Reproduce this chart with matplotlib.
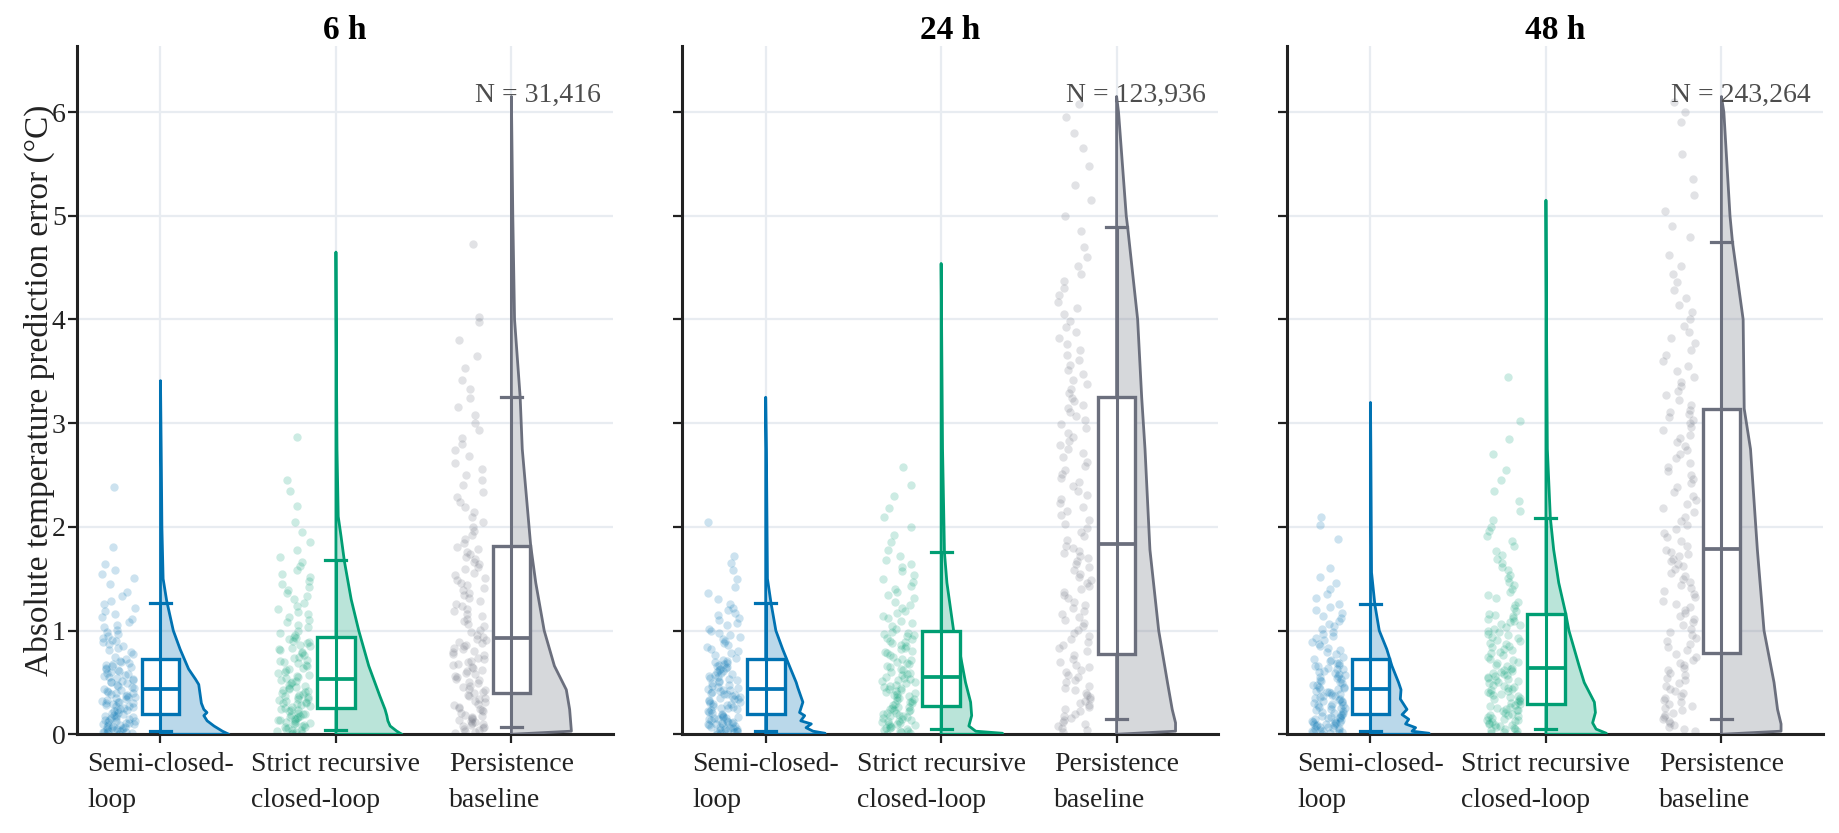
import math
import matplotlib
matplotlib.use("Agg")
import matplotlib.pyplot as plt
from matplotlib.patches import Polygon, Rectangle
from matplotlib.colors import to_rgba

plt.rcParams["font.family"] = ["Liberation Serif", "DejaVu Serif"]

# ---------------------------------------------------------------
# data
# ---------------------------------------------------------------
HORIZONS = ["6 h", "24 h", "48 h"]
N_COUNTS = [31416, 123936, 243264]
MODELS = ["Semi-closed-\nloop", "Strict recursive\nclosed-loop", "Persistence\nbaseline"]
COLORS = ["#0072B2", "#009E73", "#6B6F7D"]

# box stats per horizon: [semi, strict, persistence]; whiskers = 5th / 95th pct
BOX_Q1 = [[0.193, 0.257, 0.395], [0.20, 0.273, 0.77], [0.20, 0.29, 0.78]]
BOX_MED = [[0.44, 0.53, 0.926], [0.44, 0.556, 1.833], [0.44, 0.643, 1.79]]
BOX_Q3 = [[0.723, 0.939, 1.817], [0.723, 0.997, 3.25], [0.723, 1.164, 3.14]]
WHISK_LO = [[0.03, 0.042, 0.074], [0.03, 0.048, 0.145], [0.03, 0.055, 0.145]]
WHISK_HI = [[1.27, 1.68, 3.25], [1.264, 1.76, 4.89], [1.254, 2.09, 4.75]]

# half-violin outlines: error level and density half-width
SEMI_6H_VY = [0.0, 0.03, 0.08, 0.13, 0.18, 0.21, 0.24, 0.30, 0.48, 0.53, 0.63, 0.82, 1.0, 1.29, 1.5, 2.0, 2.75, 3.41]
SEMI_6H_VW = [0.39, 0.353, 0.305, 0.266, 0.247, 0.265, 0.247, 0.233, 0.218, 0.2, 0.16, 0.112, 0.073, 0.035, 0.015, 0.008, 0.004, 0.0]
STRICT_6H_VY = [0.0, 0.03, 0.08, 0.13, 0.18, 0.24, 0.37, 0.66, 1.0, 1.3, 1.67, 1.91, 2.1, 2.75, 3.5, 4.65]
STRICT_6H_VW = [0.376, 0.347, 0.309, 0.296, 0.29, 0.28, 0.25, 0.187, 0.13, 0.087, 0.048, 0.029, 0.013, 0.006, 0.003, 0.0]
PERSIST_6H_VY = [0.03, 0.24, 0.43, 0.66, 1.0, 1.46, 1.82, 2.75, 3.25, 4.0, 5.0, 6.15]
PERSIST_6H_VW = [0.342, 0.332, 0.313, 0.245, 0.187, 0.139, 0.11, 0.062, 0.05, 0.018, 0.008, 0.0]

SEMI_24H_VY = [0.0, 0.01, 0.03, 0.064, 0.1, 0.13, 0.18, 0.21, 0.31, 0.45, 0.5, 0.66, 0.82, 1.0, 1.27, 1.5, 2.75, 3.25]
SEMI_24H_VW = [0.34, 0.338, 0.27, 0.23, 0.26, 0.2, 0.222, 0.193, 0.212, 0.183, 0.174, 0.135, 0.097, 0.058, 0.03, 0.01, 0.004, 0.0]
STRICT_24H_VY = [0.0, 0.01, 0.03, 0.08, 0.18, 0.31, 0.5, 0.76, 1.0, 1.46, 1.75, 2.75, 4.54]
STRICT_24H_VW = [0.35, 0.35, 0.197, 0.158, 0.174, 0.168, 0.139, 0.11, 0.071, 0.033, 0.019, 0.008, 0.0]
PERSIST_24H_VY = [0.03, 0.11, 0.24, 0.5, 1.0, 1.78, 2.75, 3.25, 4.0, 4.89, 5.0, 6.0, 6.15]
PERSIST_24H_VW = [0.336, 0.336, 0.317, 0.29, 0.24, 0.19, 0.162, 0.143, 0.12, 0.063, 0.055, 0.011, 0.0]

SEMI_48H_VY = [0.0, 0.01, 0.03, 0.064, 0.1, 0.145, 0.19, 0.24, 0.34, 0.43, 0.5, 0.66, 0.82, 1.0, 1.25, 1.56, 2.75, 3.2]
SEMI_48H_VW = [0.334, 0.334, 0.237, 0.257, 0.2, 0.218, 0.18, 0.208, 0.17, 0.174, 0.16, 0.122, 0.093, 0.05, 0.025, 0.006, 0.002, 0.0]
STRICT_48H_VY = [0.0, 0.01, 0.05, 0.11, 0.21, 0.31, 0.5, 0.66, 1.0, 1.17, 1.46, 1.78, 2.09, 2.75, 4.0, 5.15]
STRICT_48H_VW = [0.344, 0.344, 0.286, 0.266, 0.282, 0.276, 0.218, 0.189, 0.131, 0.112, 0.073, 0.044, 0.025, 0.008, 0.003, 0.0]
PERSIST_48H_VY = [0.03, 0.1, 0.24, 0.5, 1.0, 1.78, 2.75, 3.14, 4.0, 4.75, 5.0, 6.0, 6.15]
PERSIST_48H_VW = [0.34, 0.34, 0.32, 0.3, 0.243, 0.205, 0.166, 0.13, 0.124, 0.063, 0.049, 0.014, 0.0]

# sub-sampled raw errors shown as jittered points (two draws per group)
SEMI_6H_PTS = [0.01, 0.02, 0.03, 0.04, 0.05, 0.06, 0.07, 0.08, 0.09, 0.10, 0.11, 0.12, 0.13, 0.15, 0.16, 0.17, 0.18,
               0.20, 0.21, 0.23, 0.24, 0.25, 0.27, 0.28, 0.29, 0.31, 0.32, 0.33, 0.35, 0.36, 0.37, 0.39, 0.40, 0.41, 0.43,
               0.45, 0.46, 0.48, 0.49, 0.51, 0.52, 0.54, 0.55, 0.57, 0.58, 0.60, 0.61, 0.63, 0.64, 0.66, 0.67, 0.69, 0.71,
               0.75, 0.79, 0.83, 0.87, 0.91, 0.95, 0.99, 1.03, 1.08, 1.13, 1.19, 1.26, 1.33, 1.45, 1.58, 1.81, 2.38]
SEMI_6H_PTS_B = [0.005, 0.015, 0.025, 0.035, 0.045, 0.055, 0.075, 0.085, 0.095, 0.105, 0.125, 0.14, 0.155, 0.175,
                 0.19, 0.205, 0.22, 0.235, 0.26, 0.275, 0.30, 0.315, 0.34, 0.355, 0.38, 0.395, 0.42, 0.44, 0.47, 0.50,
                 0.53, 0.56, 0.59, 0.62, 0.65, 0.68, 0.70, 0.73, 0.77, 0.81, 0.85, 0.89, 0.93, 0.97, 1.01, 1.05, 1.11,
                 1.16, 1.22, 1.29, 1.37, 1.51, 1.64, 1.55, 0.02, 0.06, 0.14, 0.30, 0.50, 0.90]
STRICT_6H_PTS = [0.01, 0.02, 0.04, 0.05, 0.07, 0.08, 0.10, 0.11, 0.13, 0.14, 0.16, 0.17, 0.19, 0.20, 0.22, 0.23, 0.25,
                 0.27, 0.28, 0.30, 0.31, 0.33, 0.34, 0.36, 0.37, 0.39, 0.40, 0.42, 0.43, 0.45, 0.46, 0.48, 0.49, 0.51, 0.52,
                 0.55, 0.57, 0.60, 0.62, 0.64, 0.67, 0.69, 0.71, 0.74, 0.76, 0.78, 0.81, 0.83, 0.85, 0.88, 0.90, 0.92, 0.94,
                 0.98, 1.03, 1.08, 1.13, 1.18, 1.24, 1.30, 1.36, 1.42, 1.48, 1.55, 1.62, 1.71, 1.85, 2.05, 2.35, 2.87]
STRICT_6H_PTS_B = [0.005, 0.015, 0.03, 0.045, 0.06, 0.075, 0.09, 0.105, 0.12, 0.135, 0.15, 0.165, 0.18, 0.195, 0.21,
                   0.235, 0.245, 0.265, 0.29, 0.305, 0.32, 0.345, 0.355, 0.38, 0.41, 0.44, 0.47, 0.50, 0.54, 0.565, 0.59,
                   0.63, 0.66, 0.70, 0.72, 0.75, 0.79, 0.82, 0.86, 0.89, 0.93, 0.96, 1.00, 1.05, 1.10, 1.16, 1.21, 1.27,
                   1.33, 1.39, 1.45, 1.52, 1.58, 1.66, 1.78, 1.95, 2.20, 2.45]
PERSIST_6H_PTS = [0.01, 0.03, 0.05, 0.07, 0.09, 0.11, 0.13, 0.15, 0.17, 0.19, 0.22, 0.24, 0.26, 0.29, 0.32, 0.35, 0.38,
                  0.41, 0.44, 0.47, 0.50, 0.53, 0.56, 0.59, 0.62, 0.65, 0.68, 0.71, 0.74, 0.77, 0.80, 0.83, 0.86, 0.89, 0.92,
                  0.96, 1.01, 1.06, 1.11, 1.16, 1.21, 1.26, 1.31, 1.36, 1.41, 1.46, 1.51, 1.56, 1.61, 1.66, 1.71, 1.76, 1.81,
                  1.88, 1.96, 2.05, 2.14, 2.24, 2.34, 2.45, 2.56, 2.68, 2.80, 2.93, 3.08, 3.24, 3.42, 3.65, 4.02, 4.73]
PERSIST_6H_PTS_B = [0.02, 0.04, 0.06, 0.08, 0.10, 0.12, 0.14, 0.16, 0.18, 0.21, 0.23, 0.25, 0.28, 0.31, 0.34, 0.37,
                    0.40, 0.43, 0.46, 0.49, 0.52, 0.55, 0.58, 0.61, 0.64, 0.67, 0.70, 0.73, 0.76, 0.79, 0.82, 0.85, 0.88,
                    0.91, 0.94, 0.99, 1.04, 1.09, 1.14, 1.19, 1.24, 1.29, 1.34, 1.39, 1.44, 1.49, 1.54, 1.59, 1.64, 1.69,
                    1.74, 1.79, 1.84, 1.92, 2.00, 2.10, 2.19, 2.29, 2.40, 2.50, 2.62, 2.74, 2.86, 3.00, 3.16, 3.33, 3.53,
                    3.80, 3.98]

SEMI_24H_PTS = [0.01, 0.02, 0.03, 0.04, 0.05, 0.06, 0.07, 0.08, 0.09, 0.10, 0.11, 0.12, 0.14, 0.15, 0.16, 0.17, 0.19,
                0.21, 0.22, 0.23, 0.25, 0.26, 0.27, 0.29, 0.30, 0.31, 0.33, 0.34, 0.35, 0.37, 0.38, 0.39, 0.41, 0.42, 0.43,
                0.45, 0.47, 0.48, 0.50, 0.51, 0.53, 0.54, 0.56, 0.57, 0.59, 0.60, 0.62, 0.63, 0.65, 0.66, 0.68, 0.69, 0.71,
                0.74, 0.78, 0.82, 0.86, 0.90, 0.94, 0.98, 1.02, 1.07, 1.12, 1.17, 1.22, 1.30, 1.42, 1.58, 1.72, 2.05]
SEMI_24H_PTS_B = [0.005, 0.015, 0.025, 0.035, 0.045, 0.055, 0.065, 0.075, 0.085, 0.095, 0.105, 0.115, 0.13, 0.145,
                  0.155, 0.165, 0.18, 0.20, 0.215, 0.24, 0.255, 0.28, 0.295, 0.32, 0.345, 0.36, 0.385, 0.40, 0.425, 0.44,
                  0.46, 0.49, 0.52, 0.55, 0.58, 0.61, 0.64, 0.67, 0.70, 0.72, 0.76, 0.80, 0.84, 0.88, 0.92, 0.96, 1.00,
                  1.05, 1.10, 1.15, 1.20, 1.26, 1.36, 1.50, 1.65]
STRICT_24H_PTS = [0.01, 0.03, 0.04, 0.06, 0.07, 0.09, 0.10, 0.12, 0.13, 0.15, 0.17, 0.18, 0.20, 0.21, 0.23, 0.24, 0.26,
                  0.28, 0.30, 0.31, 0.33, 0.34, 0.36, 0.37, 0.39, 0.40, 0.42, 0.43, 0.45, 0.47, 0.48, 0.50, 0.51, 0.53, 0.54,
                  0.58, 0.60, 0.63, 0.65, 0.68, 0.70, 0.73, 0.75, 0.78, 0.80, 0.83, 0.85, 0.88, 0.90, 0.93, 0.95, 0.97, 0.99,
                  1.04, 1.09, 1.14, 1.19, 1.25, 1.31, 1.37, 1.43, 1.50, 1.57, 1.64, 1.72, 1.85, 2.00, 2.18, 2.40, 2.58]
STRICT_24H_PTS_B = [0.005, 0.02, 0.035, 0.05, 0.065, 0.08, 0.095, 0.11, 0.125, 0.14, 0.16, 0.175, 0.19, 0.205, 0.22,
                    0.235, 0.25, 0.265, 0.29, 0.32, 0.35, 0.38, 0.41, 0.44, 0.46, 0.49, 0.52, 0.55, 0.57, 0.59, 0.62,
                    0.66, 0.69, 0.72, 0.76, 0.79, 0.82, 0.86, 0.89, 0.92, 0.96, 0.98, 1.02, 1.07, 1.12, 1.17, 1.22, 1.28,
                    1.34, 1.40, 1.47, 1.54, 1.61, 1.68, 1.78, 1.92, 2.10, 2.30]
PERSIST_24H_PTS = [0.02, 0.06, 0.10, 0.14, 0.18, 0.22, 0.26, 0.30, 0.34, 0.38, 0.43, 0.47, 0.52, 0.57, 0.62, 0.67, 0.73,
                   0.83, 0.89, 0.95, 1.01, 1.07, 1.13, 1.19, 1.25, 1.31, 1.37, 1.43, 1.49, 1.55, 1.61, 1.67, 1.72, 1.77, 1.82,
                   1.91, 1.99, 2.07, 2.15, 2.23, 2.31, 2.39, 2.47, 2.55, 2.63, 2.71, 2.79, 2.87, 2.95, 3.03, 3.11, 3.18, 3.24,
                   3.33, 3.42, 3.51, 3.61, 3.71, 3.82, 3.93, 4.05, 4.17, 4.30, 4.44, 4.60, 4.85, 5.15, 5.48, 5.80, 6.08]
PERSIST_24H_PTS_B = [0.04, 0.08, 0.12, 0.16, 0.20, 0.24, 0.28, 0.32, 0.36, 0.40, 0.45, 0.50, 0.55, 0.60, 0.65, 0.70,
                     0.76, 0.80, 0.86, 0.92, 0.98, 1.04, 1.10, 1.16, 1.22, 1.28, 1.34, 1.40, 1.46, 1.52, 1.58, 1.64, 1.70,
                     1.75, 1.80, 1.87, 1.95, 2.03, 2.11, 2.19, 2.27, 2.35, 2.43, 2.51, 2.59, 2.67, 2.75, 2.83, 2.91, 2.99,
                     3.07, 3.15, 3.21, 3.29, 3.38, 3.47, 3.56, 3.66, 3.76, 3.88, 3.99, 4.11, 4.24, 4.37, 4.52, 4.70, 5.00,
                     5.30, 5.65, 5.95]

SEMI_48H_PTS = [0.01, 0.02, 0.03, 0.04, 0.05, 0.07, 0.08, 0.09, 0.10, 0.11, 0.12, 0.13, 0.14, 0.16, 0.17, 0.18, 0.19,
                0.21, 0.22, 0.24, 0.25, 0.26, 0.28, 0.29, 0.30, 0.32, 0.33, 0.34, 0.36, 0.37, 0.38, 0.40, 0.41, 0.42, 0.44,
                0.45, 0.46, 0.48, 0.49, 0.51, 0.52, 0.54, 0.55, 0.57, 0.58, 0.60, 0.61, 0.63, 0.64, 0.66, 0.67, 0.69, 0.72,
                0.75, 0.79, 0.83, 0.87, 0.91, 0.95, 0.99, 1.04, 1.09, 1.14, 1.20, 1.26, 1.35, 1.46, 1.60, 2.02, 2.10]
SEMI_48H_PTS_B = [0.005, 0.015, 0.025, 0.035, 0.045, 0.06, 0.065, 0.075, 0.085, 0.095, 0.105, 0.115, 0.125, 0.15,
                  0.155, 0.165, 0.185, 0.205, 0.215, 0.235, 0.255, 0.27, 0.285, 0.31, 0.325, 0.35, 0.365, 0.39, 0.41,
                  0.435, 0.455, 0.475, 0.505, 0.535, 0.565, 0.595, 0.625, 0.655, 0.685, 0.71, 0.73, 0.77, 0.81, 0.85,
                  0.89, 0.93, 0.97, 1.02, 1.06, 1.12, 1.17, 1.23, 1.31, 1.40, 1.52, 1.88]
STRICT_48H_PTS = [0.01, 0.03, 0.05, 0.06, 0.08, 0.09, 0.11, 0.13, 0.14, 0.16, 0.18, 0.19, 0.21, 0.23, 0.24, 0.26, 0.28,
                  0.30, 0.32, 0.34, 0.36, 0.38, 0.40, 0.42, 0.44, 0.46, 0.48, 0.50, 0.52, 0.54, 0.56, 0.58, 0.60, 0.62, 0.64,
                  0.67, 0.70, 0.73, 0.76, 0.79, 0.82, 0.85, 0.88, 0.91, 0.94, 0.97, 1.00, 1.03, 1.06, 1.09, 1.12, 1.14, 1.16,
                  1.22, 1.28, 1.34, 1.40, 1.47, 1.54, 1.61, 1.69, 1.77, 1.86, 1.96, 2.07, 2.25, 2.45, 2.70, 3.02, 3.45]
STRICT_48H_PTS_B = [0.005, 0.02, 0.04, 0.055, 0.07, 0.085, 0.10, 0.12, 0.135, 0.15, 0.17, 0.185, 0.20, 0.22, 0.235,
                    0.25, 0.27, 0.29, 0.31, 0.33, 0.35, 0.37, 0.39, 0.41, 0.43, 0.45, 0.47, 0.49, 0.51, 0.53, 0.55, 0.57,
                    0.59, 0.61, 0.63, 0.66, 0.69, 0.72, 0.75, 0.78, 0.81, 0.84, 0.87, 0.90, 0.93, 0.96, 0.99, 1.02, 1.05,
                    1.08, 1.11, 1.15, 1.19, 1.25, 1.31, 1.37, 1.44, 1.51, 1.58, 1.65, 1.73, 1.82, 1.91, 2.00, 2.15, 2.35,
                    2.55, 2.85]
PERSIST_48H_PTS = [0.03, 0.07, 0.11, 0.15, 0.19, 0.23, 0.27, 0.31, 0.35, 0.40, 0.44, 0.49, 0.54, 0.59, 0.64, 0.69, 0.75,
                   0.81, 0.87, 0.93, 0.99, 1.05, 1.11, 1.17, 1.23, 1.29, 1.35, 1.41, 1.47, 1.53, 1.59, 1.64, 1.69, 1.74, 1.78,
                   1.86, 1.94, 2.02, 2.10, 2.18, 2.26, 2.34, 2.42, 2.50, 2.58, 2.66, 2.74, 2.82, 2.89, 2.96, 3.03, 3.09, 3.13,
                   3.22, 3.31, 3.40, 3.50, 3.60, 3.71, 3.82, 3.94, 4.07, 4.21, 4.36, 4.52, 4.80, 5.05, 5.35, 5.90, 6.10]
PERSIST_48H_PTS_B = [0.05, 0.09, 0.13, 0.17, 0.21, 0.25, 0.29, 0.33, 0.37, 0.42, 0.47, 0.52, 0.57, 0.62, 0.67, 0.72,
                     0.77, 0.84, 0.90, 0.96, 1.02, 1.08, 1.14, 1.20, 1.26, 1.32, 1.38, 1.44, 1.50, 1.56, 1.62, 1.67, 1.72,
                     1.76, 1.82, 1.90, 1.98, 2.06, 2.14, 2.22, 2.30, 2.38, 2.46, 2.54, 2.62, 2.70, 2.78, 2.86, 2.93, 3.00,
                     3.06, 3.11, 3.18, 3.27, 3.36, 3.45, 3.55, 3.66, 3.77, 3.88, 4.00, 4.14, 4.28, 4.44, 4.62, 4.90, 5.20,
                     5.60, 6.00]

VIOLINS = [
    [(SEMI_6H_VY, SEMI_6H_VW), (STRICT_6H_VY, STRICT_6H_VW), (PERSIST_6H_VY, PERSIST_6H_VW)],
    [(SEMI_24H_VY, SEMI_24H_VW), (STRICT_24H_VY, STRICT_24H_VW), (PERSIST_24H_VY, PERSIST_24H_VW)],
    [(SEMI_48H_VY, SEMI_48H_VW), (STRICT_48H_VY, STRICT_48H_VW), (PERSIST_48H_VY, PERSIST_48H_VW)],
]
POINTS = [
    [SEMI_6H_PTS + SEMI_6H_PTS_B, STRICT_6H_PTS + STRICT_6H_PTS_B, PERSIST_6H_PTS + PERSIST_6H_PTS_B],
    [SEMI_24H_PTS + SEMI_24H_PTS_B, STRICT_24H_PTS + STRICT_24H_PTS_B, PERSIST_24H_PTS + PERSIST_24H_PTS_B],
    [SEMI_48H_PTS + SEMI_48H_PTS_B, STRICT_48H_PTS + STRICT_48H_PTS_B, PERSIST_48H_PTS + PERSIST_48H_PTS_B],
]

# ---------------------------------------------------------------
# layout / style
# ---------------------------------------------------------------
W, H = 1840, 833
AX_LEFT_PX = [76.8, 682.0, 1286.8]
AX_W_PX, AX_BOTTOM_PX, AX_H_PX = 536.0, 98.7, 688.6
INK = "#222222"
GRID = "#e8ecf1"

BOX_W = 0.215
CAP_W = 0.12
PT_OFFSET = -0.24
PT_SPREAD = 0.095


def jitter(i, seed):
    # deterministic hash-style jitter in [-1, 1] for the strip positions
    v = math.sin((i + 1) * 12.9898 + seed * 78.233) * 43758.5453
    return 2 * (v - math.floor(v)) - 1


fig = plt.figure(figsize=(W / 100, H / 100), dpi=100)
fig.patch.set_facecolor("white")

for k, horizon in enumerate(HORIZONS):
    ax = fig.add_axes([AX_LEFT_PX[k] / W, AX_BOTTOM_PX / H, AX_W_PX / W, AX_H_PX / H])
    ax.set_xlim(-0.477, 2.578)
    ax.set_ylim(0, 6.64)

    for j, color in enumerate(COLORS):
        c = j
        # jittered raw points
        pts = POINTS[k][j]
        xs = [c + PT_OFFSET + PT_SPREAD * jitter(i, 3 * k + j) for i in range(len(pts))]
        ax.scatter(xs, pts, s=36, color=color, alpha=0.2, linewidths=0, zorder=2)

        # half violin on the right of the category centre
        vy, vw = VIOLINS[k][j]
        poly = [(c, 0.0)] + [(c + w, y) for y, w in zip(vy, vw)] + [(c, vy[-1])]
        ax.add_patch(Polygon(poly, closed=True, facecolor=to_rgba(color, 0.27),
                             edgecolor=color, linewidth=2.0, joinstyle="round", zorder=3))

        # box
        q1, med, q3 = BOX_Q1[k][j], BOX_MED[k][j], BOX_Q3[k][j]
        lo, hi = WHISK_LO[k][j], WHISK_HI[k][j]
        ax.add_patch(Rectangle((c - BOX_W / 2, q1), BOX_W, q3 - q1, facecolor="white",
                               edgecolor=color, linewidth=2.4, zorder=4))
        ax.plot([c, c], [lo, hi], color=color, lw=2.2, zorder=5, solid_capstyle="butt")
        ax.plot([c - CAP_W / 2, c + CAP_W / 2], [lo, lo], color=color, lw=2.3, zorder=5)
        ax.plot([c - CAP_W / 2, c + CAP_W / 2], [hi, hi], color=color, lw=2.3, zorder=5)
        ax.plot([c - BOX_W / 2, c + BOX_W / 2], [med, med], color=color, lw=2.7, zorder=5,
                solid_capstyle="butt")

    ax.set_xticks([0, 1, 2])
    ax.set_xticklabels(MODELS, fontsize=20, multialignment="left", linespacing=1.62)
    ax.set_yticks(range(0, 7))
    ax.grid(True, color=GRID, lw=1.6, zorder=0)
    ax.set_axisbelow(True)

    for side in ["top", "right"]:
        ax.spines[side].set_visible(False)
    for side in ["left", "bottom"]:
        ax.spines[side].set_color(INK)
        ax.spines[side].set_linewidth(2.2)
    ax.tick_params(axis="both", direction="out", length=6.5, width=1.6, color=INK, labelcolor=INK)
    ax.tick_params(axis="x", pad=6)
    ax.tick_params(axis="y", pad=1.5, labelsize=20)

    if k == 0:
        ax.set_ylabel("Absolute temperature prediction error (°C)", fontsize=24, color=INK)
        ax.yaxis.set_label_coords(-0.041, 0.5)
    else:
        ax.tick_params(axis="y", labelleft=False)

    ax.set_title(horizon, fontsize=24, fontweight="bold", pad=4.5)
    ax.text(0.978, 0.919, f"N = {N_COUNTS[k]:,}", transform=ax.transAxes,
            ha="right", va="baseline", fontsize=20, color="#4d4d4d", zorder=6)

fig.savefig("out.png", dpi=100, facecolor="white")
